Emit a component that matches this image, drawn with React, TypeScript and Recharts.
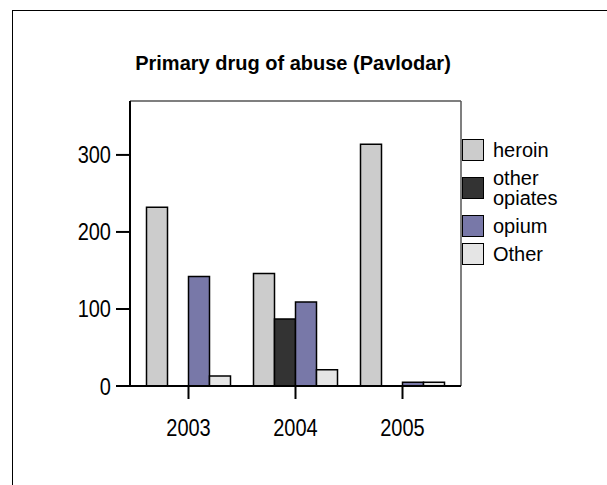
import React from 'react';
import { BarChart, Bar, XAxis, YAxis, Legend, CartesianGrid } from 'recharts';

const YEARS = ['2003', '2004', '2005'];
const HEROIN = [232, 146, 314];
const OTHER_OPIATES = [0, 87, 0];
const OPIUM = [142, 109, 5];
const OTHER = [13, 21, 5];
const Y_TICKS = [0, 100, 200, 300];

const SERIES = [
  { key: 'heroin', label: ['heroin'], color: '#cccccc' },
  { key: 'otherOpiates', label: ['other', 'opiates'], color: '#333333' },
  { key: 'opium', label: ['opium'], color: '#7878a8' },
  { key: 'other', label: ['Other'], color: '#e5e5e5' },
];

const data = YEARS.map((year, i) => ({
  year,
  heroin: HEROIN[i],
  otherOpiates: OTHER_OPIATES[i],
  opium: OPIUM[i],
  other: OTHER[i],
}));

const FONT = "'Liberation Sans', Arial, sans-serif";

// tick labels in the original are drawn a bit taller than wide
const stretch = (x: number, y: number) =>
  `translate(${x},${y}) scale(1,1.2) translate(${-x},${-y})`;

const XTick = ({ x, y, payload }: any) => (
  <text
    x={x}
    y={y}
    dy="0.71em"
    textAnchor="middle"
    fill="#000"
    fontSize={20}
    fontFamily={FONT}
    transform={stretch(x, y)}
  >
    {payload.value}
  </text>
);

const YTick = ({ x, y, payload }: any) => (
  <text
    x={x}
    y={y}
    dy="0.355em"
    textAnchor="end"
    fill="#000"
    fontSize={20}
    fontFamily={FONT}
    transform={stretch(x, y)}
  >
    {payload.value}
  </text>
);

const LegendBox = () => (
  <div style={{ fontFamily: FONT, fontSize: 20, lineHeight: '20px', color: '#000' }}>
    {SERIES.map((s, i) => (
      <div
        key={s.key}
        style={{ display: 'flex', alignItems: 'center', marginBottom: i === 2 ? 6 : 7 }}
      >
        <div
          style={{
            width: 20,
            height: 20,
            background: s.color,
            border: '1.5px solid #000',
            flex: 'none',
          }}
        />
        <div style={{ marginLeft: 9 }}>
          {s.label.map((t) => (
            <div key={t}>{t}</div>
          ))}
        </div>
      </div>
    ))}
  </div>
);

export default function App() {
  return (
    <div
      style={{
        position: 'absolute',
        left: 0,
        top: 0,
        width: 607,
        height: 485,
        overflow: 'hidden',
        background: '#fff',
      }}
    >
      {/* outer frame, runs off the right and bottom edges */}
      <div
        style={{
          position: 'absolute',
          left: 12,
          top: 10,
          width: 700,
          height: 600,
          borderLeft: '1.5px solid #000',
          borderTop: '1.5px solid #000',
        }}
      />
      <div style={{ position: 'absolute', left: 0, top: 0 }}>
        <BarChart
          width={607}
          height={485}
          data={data}
          margin={{ top: 101, right: 146, bottom: 59, left: 0 }}
          barCategoryGap={11.5}
          barGap={0}
        >
          <text
            x={293}
            y={70}
            textAnchor="middle"
            style={{ fontFamily: FONT, fontSize: 20, fontWeight: 'bold' }}
            fill="#000"
          >
            Primary drug of abuse (Pavlodar)
          </text>
          {/* top and right edges of the plot frame */}
          <CartesianGrid
            stroke="#555"
            strokeWidth={1.5}
            horizontalCoordinatesGenerator={({ offset }: any) => [offset.top]}
            verticalCoordinatesGenerator={({ offset }: any) => [offset.left + offset.width]}
          />
          <XAxis
            dataKey="year"
            padding={{ left: 5, right: 5 }}
            height={40}
            tickSize={13}
            tickMargin={20}
            axisLine={{ stroke: '#000', strokeWidth: 2 }}
            tickLine={{ stroke: '#000', strokeWidth: 2 }}
            tick={<XTick />}
          />
          <YAxis
            width={130}
            domain={[0, 370]}
            ticks={Y_TICKS}
            tickSize={14}
            tickMargin={5}
            axisLine={{ stroke: '#000', strokeWidth: 2 }}
            tickLine={{ stroke: '#000', strokeWidth: 2 }}
            tick={<YTick />}
          />
          {SERIES.map((s) => (
            <Bar
              key={s.key}
              dataKey={s.key}
              fill={s.color}
              stroke="#000"
              strokeWidth={1.5}
              isAnimationActive={false}
            />
          ))}
          <Legend
            layout="horizontal"
            verticalAlign="middle"
            align="center"
            content={<LegendBox />}
            wrapperStyle={{ left: 462, top: 139, width: 'auto', height: 'auto' }}
          />
        </BarChart>
      </div>
    </div>
  );
}
